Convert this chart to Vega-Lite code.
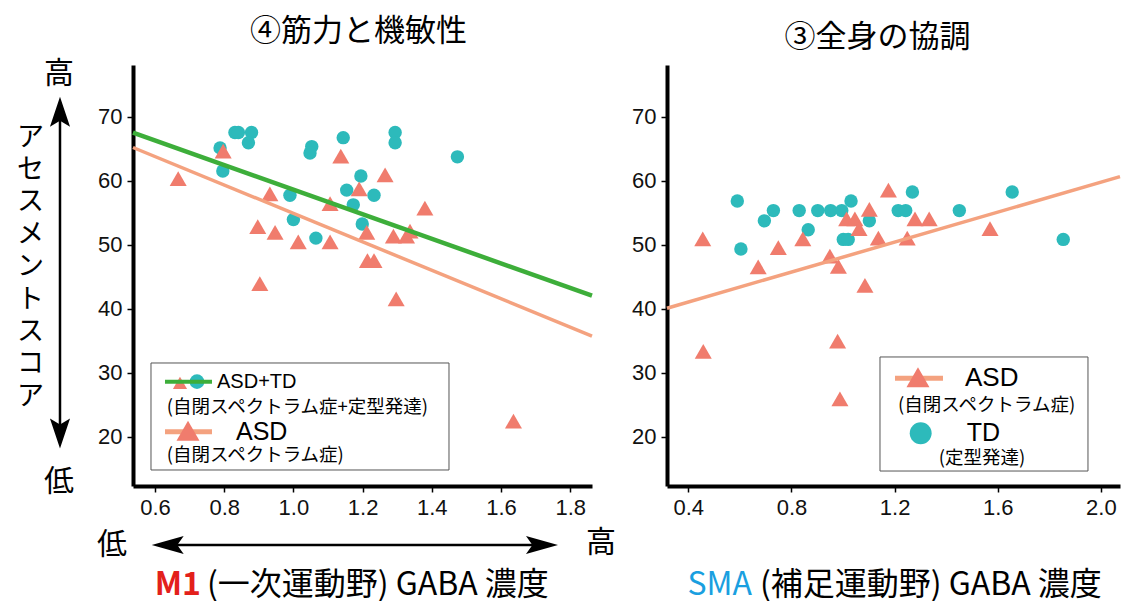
{
  "$schema": "https://vega.github.io/schema/vega-lite/v6.json",
  "background": "white",
  "padding": {"left": 16, "top": 15, "right": 0, "bottom": 0},
  "spacing": 75,
  "bounds": "flush",
  "config": {
    "view": {"stroke": null},
    "axis": {
      "grid": false,
      "domainColor": "black",
      "domainWidth": 4,
      "tickColor": "black",
      "tickWidth": 1.5,
      "tickSize": 6,
      "labelFont": "Liberation Sans",
      "labelFontSize": 22,
      "labelColor": "#111111",
      "labelPadding": 5,
      "labelFlush": false
    },
    "title": {"font": "Noto Sans CJK JP", "fontSize": 31, "fontWeight": "normal", "color": "black", "anchor": "middle", "offset": 11},
    "text": {"font": "Noto Sans CJK JP", "color": "black", "baseline": "middle"}
  },
  "datasets": {
    "m1_points": [
      {"x": 0.788, "y": 65.1, "group": "TD"}, {"x": 0.796, "y": 61.5, "group": "TD"}, {"x": 0.831, "y": 67.5, "group": "TD"},
      {"x": 0.841, "y": 67.5, "group": "TD"}, {"x": 0.879, "y": 67.5, "group": "TD"}, {"x": 0.870, "y": 65.9, "group": "TD"},
      {"x": 1.053, "y": 65.3, "group": "TD"}, {"x": 1.048, "y": 64.3, "group": "TD"}, {"x": 1.144, "y": 66.7, "group": "TD"},
      {"x": 1.294, "y": 67.5, "group": "TD"}, {"x": 1.294, "y": 65.9, "group": "TD"}, {"x": 1.474, "y": 63.7, "group": "TD"},
      {"x": 1.195, "y": 60.7, "group": "TD"}, {"x": 1.154, "y": 58.5, "group": "TD"}, {"x": 1.233, "y": 57.7, "group": "TD"},
      {"x": 0.990, "y": 57.7, "group": "TD"}, {"x": 1.173, "y": 56.2, "group": "TD"}, {"x": 1.000, "y": 53.9, "group": "TD"},
      {"x": 1.199, "y": 53.2, "group": "TD"}, {"x": 1.065, "y": 51.0, "group": "TD"},
      {"x": 0.667, "y": 60.3, "group": "ASD"}, {"x": 0.797, "y": 64.6, "group": "ASD"}, {"x": 1.137, "y": 63.8, "group": "ASD"},
      {"x": 1.265, "y": 60.9, "group": "ASD"}, {"x": 1.190, "y": 58.7, "group": "ASD"}, {"x": 0.932, "y": 57.9, "group": "ASD"},
      {"x": 1.106, "y": 56.4, "group": "ASD"}, {"x": 1.380, "y": 55.7, "group": "ASD"}, {"x": 0.897, "y": 52.8, "group": "ASD"},
      {"x": 0.947, "y": 51.9, "group": "ASD"}, {"x": 1.014, "y": 50.4, "group": "ASD"}, {"x": 1.106, "y": 50.4, "group": "ASD"},
      {"x": 1.212, "y": 51.9, "group": "ASD"}, {"x": 1.289, "y": 51.3, "group": "ASD"}, {"x": 1.327, "y": 51.3, "group": "ASD"},
      {"x": 1.337, "y": 52.1, "group": "ASD"}, {"x": 1.214, "y": 47.5, "group": "ASD"}, {"x": 1.233, "y": 47.5, "group": "ASD"},
      {"x": 0.903, "y": 43.9, "group": "ASD"}, {"x": 1.297, "y": 41.5, "group": "ASD"}, {"x": 1.636, "y": 22.4, "group": "ASD"}
    ],
    "m1_lines": [
      {"x": 0.5364, "y": 67.49, "group": "ASD+TD"}, {"x": 1.863, "y": 42.0, "group": "ASD+TD"},
      {"x": 0.5364, "y": 65.16, "group": "ASD"}, {"x": 1.863, "y": 35.69, "group": "ASD"}
    ],
    "sma_points": [
      {"x": 0.590, "y": 56.8, "group": "TD"}, {"x": 0.604, "y": 49.3, "group": "TD"}, {"x": 0.695, "y": 53.7, "group": "TD"},
      {"x": 0.730, "y": 55.3, "group": "TD"}, {"x": 0.830, "y": 55.3, "group": "TD"}, {"x": 0.865, "y": 52.3, "group": "TD"},
      {"x": 0.902, "y": 55.3, "group": "TD"}, {"x": 0.952, "y": 55.3, "group": "TD"}, {"x": 0.995, "y": 55.3, "group": "TD"},
      {"x": 1.031, "y": 56.8, "group": "TD"}, {"x": 1.001, "y": 50.8, "group": "TD"}, {"x": 1.020, "y": 50.8, "group": "TD"},
      {"x": 1.102, "y": 53.7, "group": "TD"}, {"x": 1.214, "y": 55.3, "group": "TD"}, {"x": 1.243, "y": 55.3, "group": "TD"},
      {"x": 1.269, "y": 58.2, "group": "TD"}, {"x": 1.451, "y": 55.3, "group": "TD"}, {"x": 1.656, "y": 58.2, "group": "TD"},
      {"x": 1.854, "y": 50.8, "group": "TD"},
      {"x": 0.456, "y": 50.9, "group": "ASD"}, {"x": 0.458, "y": 33.3, "group": "ASD"}, {"x": 0.671, "y": 46.5, "group": "ASD"},
      {"x": 0.749, "y": 49.5, "group": "ASD"}, {"x": 0.844, "y": 50.9, "group": "ASD"}, {"x": 0.949, "y": 48.2, "group": "ASD"},
      {"x": 0.982, "y": 46.6, "group": "ASD"}, {"x": 0.979, "y": 34.9, "group": "ASD"}, {"x": 0.988, "y": 25.9, "group": "ASD"},
      {"x": 1.014, "y": 54.0, "group": "ASD"}, {"x": 1.046, "y": 54.0, "group": "ASD"}, {"x": 1.062, "y": 52.5, "group": "ASD"},
      {"x": 1.102, "y": 55.5, "group": "ASD"}, {"x": 1.085, "y": 43.6, "group": "ASD"}, {"x": 1.137, "y": 51.0, "group": "ASD"},
      {"x": 1.176, "y": 58.5, "group": "ASD"}, {"x": 1.249, "y": 51.0, "group": "ASD"}, {"x": 1.279, "y": 54.0, "group": "ASD"},
      {"x": 1.334, "y": 54.0, "group": "ASD"}, {"x": 1.570, "y": 52.5, "group": "ASD"}
    ],
    "sma_lines": [
      {"x": 0.3174, "y": 40.05, "group": "ASD"}, {"x": 2.074, "y": 60.6, "group": "ASD"}
    ]
  },
  "hconcat": [
    {
      "width": 459,
      "height": 421,
      "title": {"text": "④筋力と機敏性", "dx": -4},
      "layer": [
        {
          "data": {"name": "m1_points"},
          "transform": [{"filter": "datum.group === 'TD'"}],
          "mark": {"type": "point", "shape": "circle", "filled": true, "size": 180, "color": "#2DBABB", "opacity": 1},
          "encoding": {
            "x": {"field": "x", "type": "quantitative",
              "scale": {"domain": [0.5364, 1.863], "nice": false, "zero": false},
              "axis": {"values": [0.6, 0.8, 1.0, 1.2, 1.4, 1.6, 1.8], "format": ".1f", "title": null}},
            "y": {"field": "y", "type": "quantitative",
              "scale": {"domain": [12.27, 78.05], "nice": false, "zero": false},
              "axis": {"values": [20, 30, 40, 50, 60, 70],
                "title": ["ア", "セ", "ス", "メ", "ン", "ト", "ス", "コ", "ア"],
                "titleAngle": 0, "titleX": -103, "titleY": 72, "titleAlign": "center", "titleBaseline": "middle",
                "titleFont": "Noto Sans CJK JP", "titleFontSize": 27, "titleFontWeight": "normal",
                "titleLineHeight": 32.4, "titleColor": "black"}}
          }
        },
        {
          "data": {"name": "m1_points"},
          "transform": [{"filter": "datum.group === 'ASD'"}],
          "mark": {"type": "point", "shape": "triangle-up", "filled": true, "size": 290, "color": "#F07C6D", "opacity": 1},
          "encoding": {"x": {"field": "x", "type": "quantitative"}, "y": {"field": "y", "type": "quantitative"}}
        },
        {
          "data": {"name": "m1_lines"},
          "transform": [{"filter": "datum.group === 'ASD'"}],
          "mark": {"type": "line", "color": "#F4A27F", "strokeWidth": 3.5},
          "encoding": {"x": {"field": "x", "type": "quantitative"}, "y": {"field": "y", "type": "quantitative"}}
        },
        {
          "data": {"name": "m1_lines"},
          "transform": [{"filter": "datum.group === 'ASD+TD'"}],
          "mark": {"type": "line", "color": "#3DAE3A", "strokeWidth": 4.5},
          "encoding": {"x": {"field": "x", "type": "quantitative"}, "y": {"field": "y", "type": "quantitative"}}
        },
        {
          "data": {"values": [{}]},
          "mark": {"type": "rect", "fill": "white", "stroke": "#555555", "strokeWidth": 1},
          "encoding": {"x": {"datum": 0.5884}, "x2": {"datum": 1.4497}, "y": {"datum": 31.49}, "y2": {"datum": 14.77}}
        },
        {
          "data": {"values": [{}]},
          "mark": {"type": "point", "shape": "triangle-up", "filled": true, "size": 200, "color": "#F07C6D", "opacity": 1},
          "encoding": {"x": {"datum": 0.6722}, "y": {"datum": 28.4}}
        },
        {
          "data": {"values": [{}]},
          "mark": {"type": "point", "shape": "circle", "filled": true, "size": 215, "color": "#2DBABB", "opacity": 1},
          "encoding": {"x": {"datum": 0.7213}, "y": {"datum": 28.57}}
        },
        {
          "data": {"values": [{}]},
          "mark": {"type": "rule", "color": "#3DAE3A", "strokeWidth": 4},
          "encoding": {"x": {"datum": 0.6289}, "x2": {"datum": 0.7647}, "y": {"datum": 28.57}}
        },
        {
          "data": {"values": [{}]},
          "mark": {"type": "rule", "color": "#F4A27F", "strokeWidth": 5},
          "encoding": {"x": {"datum": 0.6289}, "x2": {"datum": 0.7647}, "y": {"datum": 20.75}}
        },
        {
          "data": {"values": [{}]},
          "mark": {"type": "point", "shape": "triangle-up", "filled": true, "size": 530, "color": "#F07C6D", "opacity": 1},
          "encoding": {"x": {"datum": 0.6954}, "y": {"datum": 20.9}}
        },
        {
          "data": {"values": [{"t": "ASD+TD"}]},
          "mark": {"type": "text", "font": "Liberation Sans", "fontSize": 20, "align": "left"},
          "encoding": {"x": {"datum": 0.7792}, "y": {"datum": 28.57}, "text": {"field": "t"}}
        },
        {
          "data": {"values": [{"t": "(自閉スペクトラム症+定型発達)"}]},
          "mark": {"type": "text", "fontSize": 18.5, "align": "left"},
          "encoding": {"x": {"datum": 0.6338}, "y": {"datum": 24.66}, "text": {"field": "t"}}
        },
        {
          "data": {"values": [{"t": "ASD"}]},
          "mark": {"type": "text", "font": "Liberation Sans", "fontSize": 25, "align": "left"},
          "encoding": {"x": {"datum": 0.834}, "y": {"datum": 20.75}, "text": {"field": "t"}}
        },
        {
          "data": {"values": [{"t": "(自閉スペクトラム症)"}]},
          "mark": {"type": "text", "fontSize": 18.5, "align": "left"},
          "encoding": {"x": {"datum": 0.6338}, "y": {"datum": 17.11}, "text": {"field": "t"}}
        },
        {
          "data": {"values": [{}]},
          "mark": {"type": "rule", "color": "black", "strokeWidth": 2.5},
          "encoding": {"x": {"datum": 0.3254}, "y": {"datum": 70.7}, "y2": {"datum": 20.5}}
        },
        {
          "data": {"values": [{}]},
          "mark": {"type": "point", "shape": "M0,-1L0.67,1L0,0.6L-0.67,1Z", "filled": true, "size": 900, "color": "black", "opacity": 1},
          "encoding": {"x": {"datum": 0.3254}, "y": {"datum": 70.75}}
        },
        {
          "data": {"values": [{}]},
          "mark": {"type": "point", "shape": "M0,1L0.67,-1L0,-0.6L-0.67,-1Z", "filled": true, "size": 900, "color": "black", "opacity": 1},
          "encoding": {"x": {"datum": 0.3254}, "y": {"datum": 20.49}}
        },
        {
          "data": {"values": [{"t": "高"}]},
          "mark": {"type": "text", "fontSize": 30},
          "encoding": {"x": {"datum": 0.3225}, "y": {"datum": 76.7}, "text": {"field": "t"}}
        },
        {
          "data": {"values": [{"t": "低"}]},
          "mark": {"type": "text", "fontSize": 30},
          "encoding": {"x": {"datum": 0.3225}, "y": {"datum": 12.9}, "text": {"field": "t"}}
        },
        {
          "data": {"values": [{}]},
          "mark": {"type": "rule", "color": "black", "strokeWidth": 2.5},
          "encoding": {"x": {"datum": 0.6367}, "x2": {"datum": 1.7185}, "y": {"datum": 3.05}}
        },
        {
          "data": {"values": [{}]},
          "mark": {"type": "point", "shape": "M-1,0L1,0.56L0.6,0L1,-0.56Z", "filled": true, "size": 1024, "color": "black", "opacity": 1},
          "encoding": {"x": {"datum": 0.6367}, "y": {"datum": 3.05}}
        },
        {
          "data": {"values": [{}]},
          "mark": {"type": "point", "shape": "M1,0L-1,0.56L-0.6,0L-1,-0.56Z", "filled": true, "size": 1024, "color": "black", "opacity": 1},
          "encoding": {"x": {"datum": 1.7185}, "y": {"datum": 3.05}}
        },
        {
          "data": {"values": [{"t": "低"}]},
          "mark": {"type": "text", "fontSize": 30},
          "encoding": {"x": {"datum": 0.4757}, "y": {"datum": 3.05}, "text": {"field": "t"}}
        },
        {
          "data": {"values": [{"t": "高"}]},
          "mark": {"type": "text", "fontSize": 30},
          "encoding": {"x": {"datum": 1.889}, "y": {"datum": 3.36}, "text": {"field": "t"}}
        },
        {
          "data": {"values": [{"t": "M1"}]},
          "mark": {"type": "text", "fontSize": 32, "fontWeight": "bold", "color": "#E3201B", "align": "right"},
          "encoding": {"x": {"datum": 0.7329}, "y": {"datum": -3.2}, "text": {"field": "t"}}
        },
        {
          "data": {"values": [{"t": "(一次運動野) GABA 濃度"}]},
          "mark": {"type": "text", "fontSize": 32, "align": "left"},
          "encoding": {"x": {"datum": 0.7503}, "y": {"datum": -3.2}, "text": {"field": "t"}}
        }
      ]
    },
    {
      "width": 453,
      "height": 421,
      "title": {"text": "③全身の協調", "dx": -16},
      "layer": [
        {
          "data": {"name": "sma_points"},
          "transform": [{"filter": "datum.group === 'TD'"}],
          "mark": {"type": "point", "shape": "circle", "filled": true, "size": 180, "color": "#2DBABB", "opacity": 1},
          "encoding": {
            "x": {"field": "x", "type": "quantitative",
              "scale": {"domain": [0.3174, 2.074], "nice": false, "zero": false},
              "axis": {"values": [0.4, 0.8, 1.2, 1.6, 2.0], "format": ".1f", "title": null}},
            "y": {"field": "y", "type": "quantitative",
              "scale": {"domain": [12.27, 78.05], "nice": false, "zero": false},
              "axis": {"values": [20, 30, 40, 50, 60, 70], "title": null}}
          }
        },
        {
          "data": {"name": "sma_points"},
          "transform": [{"filter": "datum.group === 'ASD'"}],
          "mark": {"type": "point", "shape": "triangle-up", "filled": true, "size": 290, "color": "#F07C6D", "opacity": 1},
          "encoding": {"x": {"field": "x", "type": "quantitative"}, "y": {"field": "y", "type": "quantitative"}}
        },
        {
          "data": {"name": "sma_lines"},
          "mark": {"type": "line", "color": "#F4A27F", "strokeWidth": 3.5},
          "encoding": {"x": {"field": "x", "type": "quantitative"}, "y": {"field": "y", "type": "quantitative"}}
        },
        {
          "data": {"values": [{}]},
          "mark": {"type": "rect", "fill": "white", "stroke": "#555555", "strokeWidth": 1},
          "encoding": {"x": {"datum": 1.1433}, "x2": {"datum": 1.9498}, "y": {"datum": 32.43}, "y2": {"datum": 14.61}}
        },
        {
          "data": {"values": [{}]},
          "mark": {"type": "rule", "color": "#F4A27F", "strokeWidth": 5},
          "encoding": {"x": {"datum": 1.2015}, "x2": {"datum": 1.3876}, "y": {"datum": 29.1}}
        },
        {
          "data": {"values": [{}]},
          "mark": {"type": "point", "shape": "triangle-up", "filled": true, "size": 530, "color": "#F07C6D", "opacity": 1},
          "encoding": {"x": {"datum": 1.2906}, "y": {"datum": 29.25}}
        },
        {
          "data": {"values": [{}]},
          "mark": {"type": "point", "shape": "circle", "filled": true, "size": 480, "color": "#2DBABB", "opacity": 1},
          "encoding": {"x": {"datum": 1.3011}, "y": {"datum": 20.5}}
        },
        {
          "data": {"values": [{"t": "ASD"}]},
          "mark": {"type": "text", "font": "Liberation Sans", "fontSize": 26, "align": "left"},
          "encoding": {"x": {"datum": 1.4729}, "y": {"datum": 29.1}, "text": {"field": "t"}}
        },
        {
          "data": {"values": [{"t": "(自閉スペクトラム症)"}]},
          "mark": {"type": "text", "fontSize": 18.5, "align": "center"},
          "encoding": {"x": {"datum": 1.557}, "y": {"datum": 24.93}, "text": {"field": "t"}}
        },
        {
          "data": {"values": [{"t": "TD"}]},
          "mark": {"type": "text", "font": "Liberation Sans", "fontSize": 25, "align": "left"},
          "encoding": {"x": {"datum": 1.4795}, "y": {"datum": 20.5}, "text": {"field": "t"}}
        },
        {
          "data": {"values": [{"t": "(定型発達)"}]},
          "mark": {"type": "text", "fontSize": 18.5, "align": "center"},
          "encoding": {"x": {"datum": 1.5388}, "y": {"datum": 16.64}, "text": {"field": "t"}}
        },
        {
          "data": {"values": [{"t": "SMA"}]},
          "mark": {"type": "text", "fontSize": 32, "color": "#1A9FE0", "align": "right"},
          "encoding": {"x": {"datum": 0.647}, "y": {"datum": -3.2}, "text": {"field": "t"}}
        },
        {
          "data": {"values": [{"t": "(補足運動野) GABA 濃度"}]},
          "mark": {"type": "text", "fontSize": 32, "align": "left"},
          "encoding": {"x": {"datum": 0.678}, "y": {"datum": -3.2}, "text": {"field": "t"}}
        }
      ]
    }
  ]
}
